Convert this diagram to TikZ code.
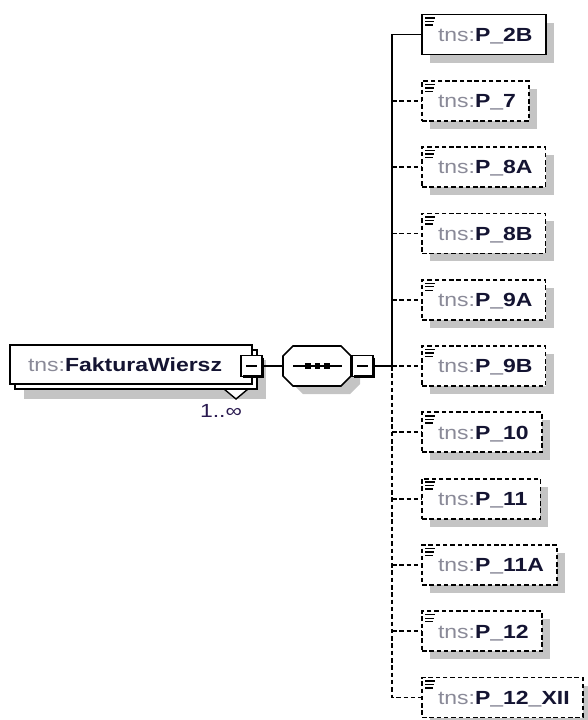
\documentclass[tikz,border=0pt]{standalone}
\usepackage{fontspec}
\usetikzlibrary{calc}
\newfontfamily\xf{Liberation Sans}[FakeStretch=1.21]
\definecolor{pfx}{HTML}{8A8A98}
\definecolor{nm}{HTML}{141432}
\definecolor{occc}{HTML}{2A1A50}
\definecolor{shd}{HTML}{C4C4C4}
\pgfdeclarelayer{bg}
\pgfsetlayers{bg,main}
\tikzset{
  elbox/.style={draw=black, line width=1.9pt, fill=white},
  conn/.style={draw=black, line width=1.8pt},
  dconn/.style={draw=black, line width=1.8pt, dash pattern=on 4.5pt off 2.8pt},
  lbl/.style={inner sep=0pt, outer sep=0pt, anchor=base west, font=\xf\fontsize{19}{22}\selectfont},
  solidbox/.style={line width=1.9pt},
  dashbox/.style={line width=1.8pt, dash pattern=on 4.5pt off 2.8pt},
  childbox/.style={draw=black, fill=white, anchor=west, minimum height=40pt,
    inner sep=0pt, outer sep=0pt, text height=13.6pt, text depth=0pt,
    font=\xf\fontsize{19}{22}\selectfont},
  minusbox/.style={draw=black, fill=white, line width=1.7pt, minimum width=21pt,
    minimum height=21pt, inner sep=0pt, outer sep=0pt},
}
\begin{document}
\begin{tikzpicture}[x=1pt,y=-1pt]
\useasboundingbox (0,0) rectangle (587,720);
% --- FakturaWiersz element (repeating) ---
\fill[shd] (24,360) rectangle (266,399);
\draw[line width=1.4pt, fill=white] (224,389) -- (236,399) -- (248,389);
\draw[elbox] (15,350) rectangle (257,389);
\node[elbox, anchor=north west, minimum width=242pt, minimum height=39pt, inner sep=0pt, outer sep=0pt] (fw) at (10,345) {};
\node[lbl] (fwt) at (28,371.5) {\textcolor{pfx}{tns:}\textcolor{nm}{\bfseries FakturaWiersz}};
\node[lbl, anchor=base, text=occc] (occ) at (221,417) {1..∞};
\node[minusbox] (fwm) at (251.5,366) {};
\draw[line width=3pt] ($(fwm.north east)+(0,2)$) -- (fwm.south east) -- ($(fwm.south west)+(2,0)$);
\draw[line width=1.5pt] ($(fwm.west)+(5,0)$) -- ($(fwm.east)+(-5,0)$);
% --- sequence compositor ---
\fill[shd] (303,354) -- (350,354) -- (360,364) -- (360,384) -- (350,394) -- (303,394) -- (293,384) -- (293,364) -- cycle;
\draw[elbox, line width=1.7pt] (293,346) -- (341,346) -- (351,356) -- (351,376) -- (341,386) -- (293,386) -- (283,376) -- (283,356) -- cycle;
\node[inner sep=0pt, outer sep=0pt, minimum width=68pt, minimum height=40pt] (seq) at (317,366) {};
\draw[line width=1.5pt] (293,366) -- (342,366);
\foreach \sx in {308,317.5,327}{\fill (\sx-2.6,363.4) rectangle (\sx+2.6,368.6);}
\node[minusbox] (seqm) at (362.5,366) {};
\draw[line width=3pt] ($(seqm.north east)+(0,2)$) -- (seqm.south east) -- ($(seqm.south west)+(2,0)$);
\draw[line width=1.5pt] ($(seqm.west)+(5,0)$) -- ($(seqm.east)+(-5,0)$);
\coordinate (jn) at (392,366);
% --- children ---
\foreach \i/\n/\s in {0/P\_2B/solidbox, 1/P\_7/dashbox, 2/P\_8A/dashbox, 3/P\_8B/dashbox,
  4/P\_9A/dashbox, 5/P\_9B/dashbox, 6/P\_10/dashbox, 7/P\_11/dashbox,
  8/P\_11A/dashbox, 9/P\_12/dashbox, 10/P\_12\_XII/dashbox}{
  \pgfmathsetmacro\yy{34.5+66.3*\i}
  \node[childbox, \s] (c\i) at (422,\yy) {\hspace*{16pt}\textcolor{pfx}{tns:}\textcolor{nm}{\bfseries \n}\hspace*{13pt}};
  \begin{pgfonlayer}{bg}
    \fill[shd] ($(c\i.north west)+(8,8)$) rectangle ($(c\i.south east)+(8,8)$);
  \end{pgfonlayer}
  \foreach \dy/\len in {3.5/10, 7/9, 10.5/8}{
    \draw[line width=1.4pt] ($(c\i.north west)+(3,\dy)$) -- +(\len,0);
  }
}
% --- connectors ---
\draw[conn] (fwm.east) -- (seq.west);
\draw[conn] (seqm.east) -- (jn);
\draw[conn] (jn) |- (c0.west);
\draw[dconn] (jn) |- (c10.west);
\foreach \i in {1,...,9}{\draw[dconn] (c\i.west -| jn) -- (c\i.west);}
\end{tikzpicture}
\end{document}
